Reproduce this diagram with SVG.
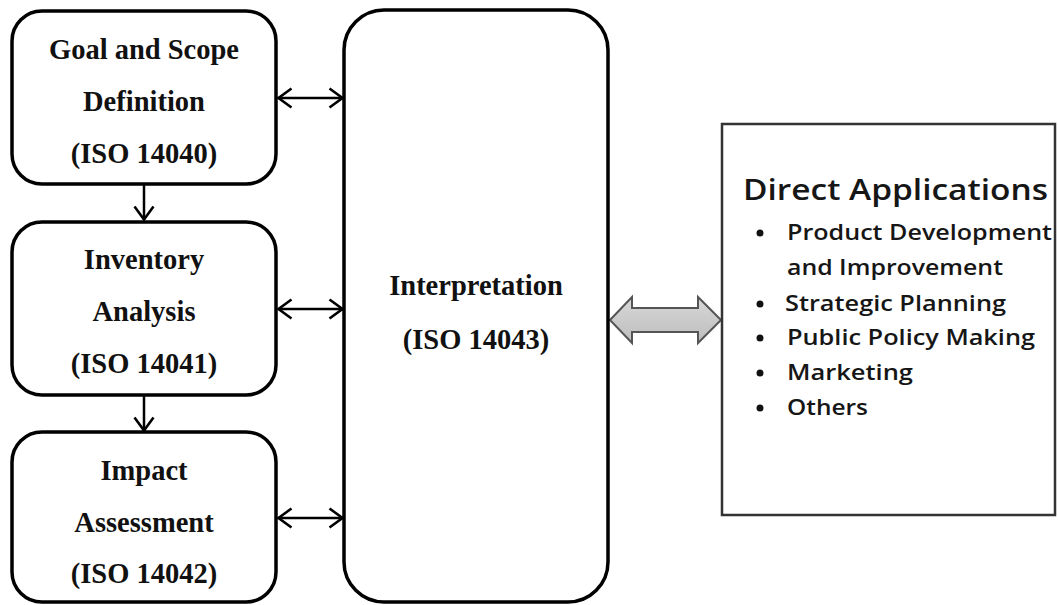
<svg xmlns="http://www.w3.org/2000/svg" width="1058" height="605" viewBox="0 0 1058 605">
  <style>
    .box { fill: #ffffff; stroke: #000000; stroke-width: 3.5; }
    .lbl { font-family: "Liberation Serif", "Times New Roman", serif; font-weight: bold; font-size: 28.5px; fill: #111111; text-anchor: middle; }
    .app { font-family: "Open Sans", Lato, "Liberation Sans", sans-serif; fill: #161616; font-weight: 600; }
    .conn { stroke: #000000; stroke-width: 2.5; fill: none; }
  </style>
  <defs>
    <marker id="open" viewBox="0 0 16 22" refX="15" refY="11" markerWidth="16" markerHeight="22" markerUnits="userSpaceOnUse" orient="auto-start-reverse">
      <path d="M1.5,1.5 L14.5,11 L1.5,20.5" fill="none" stroke="#000" stroke-width="2.6"/>
    </marker>
    <linearGradient id="gray" x1="0" y1="0" x2="0" y2="1">
      <stop offset="0" stop-color="#d8d8d8"/>
      <stop offset="1" stop-color="#bdbdbd"/>
    </linearGradient>
  </defs>

  <g id="connectors">
    <line class="conn" x1="144" y1="185" x2="144" y2="220" marker-end="url(#open)"/>
    <line class="conn" x1="144" y1="396" x2="144" y2="431" marker-end="url(#open)"/>
    <line class="conn" x1="278" y1="98" x2="343" y2="98" marker-start="url(#open)" marker-end="url(#open)"/>
    <line class="conn" x1="278" y1="309" x2="343" y2="309" marker-start="url(#open)" marker-end="url(#open)"/>
    <line class="conn" x1="278" y1="518" x2="343" y2="518" marker-start="url(#open)" marker-end="url(#open)"/>
    <path d="M610,320 L632,297 L632,308 L698,308 L698,297 L721,320 L698,343 L698,332 L632,332 L632,343 Z" fill="url(#gray)" stroke="#555555" stroke-width="2" stroke-linejoin="miter"/>
  </g>

  <g id="goal">
    <rect class="box" x="12" y="11" width="264" height="173" rx="30" ry="30"/>
    <text class="lbl" x="144" y="59">Goal and Scope</text>
    <text class="lbl" x="144" y="111">Definition</text>
    <text class="lbl" x="144" y="163">(ISO 14040)</text>
  </g>

  <g id="inventory">
    <rect class="box" x="12" y="222" width="264" height="173" rx="30" ry="30"/>
    <text class="lbl" x="144" y="269">Inventory</text>
    <text class="lbl" x="144" y="321">Analysis</text>
    <text class="lbl" x="144" y="373">(ISO 14041)</text>
  </g>

  <g id="impact">
    <rect class="box" x="12" y="432" width="264" height="170" rx="30" ry="30"/>
    <text class="lbl" x="144" y="480">Impact</text>
    <text class="lbl" x="144" y="532">Assessment</text>
    <text class="lbl" x="144" y="583">(ISO 14042)</text>
  </g>

  <g id="interpretation">
    <rect class="box" x="344" y="10" width="264" height="592" rx="40" ry="40"/>
    <text class="lbl" x="476" y="295">Interpretation</text>
    <text class="lbl" x="476" y="349">(ISO 14043)</text>
  </g>

  <g id="applications">
    <rect x="722" y="124" width="333" height="391" fill="#ffffff" stroke="#333333" stroke-width="2.5"/>
    <text class="app" x="743" y="200" font-size="29" font-weight="500" textLength="305" lengthAdjust="spacingAndGlyphs">Direct Applications</text>
    <circle cx="760" cy="233" r="3.5" fill="#111"/>
    <text class="app" x="787" y="240" font-size="21" textLength="265" lengthAdjust="spacingAndGlyphs">Product Development</text>
    <text class="app" x="787" y="275" font-size="21" textLength="216" lengthAdjust="spacingAndGlyphs">and Improvement</text>
    <circle cx="760" cy="304" r="3.5" fill="#111"/>
    <text class="app" x="785" y="311" font-size="21" textLength="221" lengthAdjust="spacingAndGlyphs">Strategic Planning</text>
    <circle cx="760" cy="338" r="3.5" fill="#111"/>
    <text class="app" x="787" y="345" font-size="21" textLength="248" lengthAdjust="spacingAndGlyphs">Public Policy Making</text>
    <circle cx="760" cy="373" r="3.5" fill="#111"/>
    <text class="app" x="787" y="380" font-size="21" textLength="126" lengthAdjust="spacingAndGlyphs">Marketing</text>
    <circle cx="760" cy="408" r="3.5" fill="#111"/>
    <text class="app" x="787" y="415" font-size="21" textLength="81" lengthAdjust="spacingAndGlyphs">Others</text>
  </g>
</svg>
